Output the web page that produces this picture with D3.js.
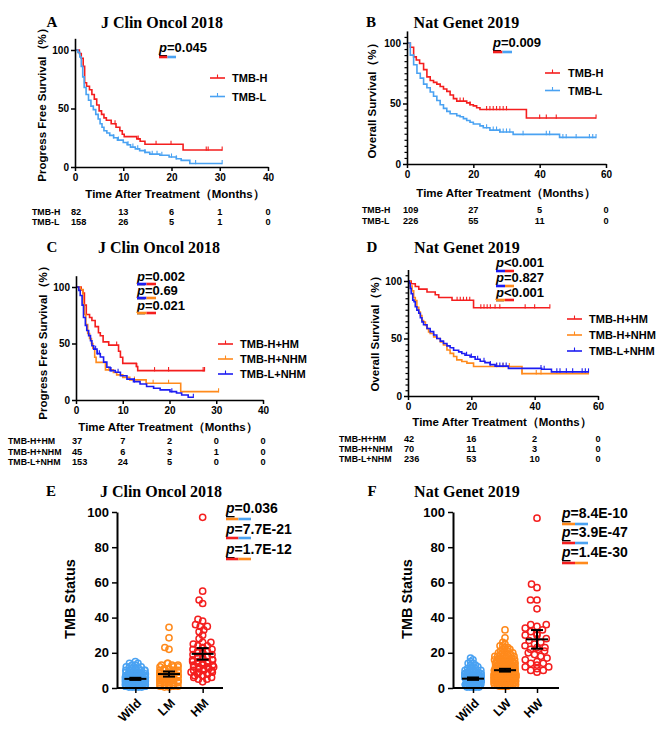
<!DOCTYPE html>
<html><head><meta charset="utf-8">
<script src="https://cdn.jsdelivr.net/npm/d3@7"></script>
<style>body{margin:0;background:#fff}svg{display:block}</style>
</head><body>
<svg id="c" width="669" height="736"></svg>
<script>
// ---------------- DATA ----------------
const TITLE_JCO = "J Clin Oncol 2018";
const TITLE_NG = "Nat Genet 2019";
const XLAB = "Time After Treatment（Months）";
const YLAB_PFS = "Progress Free Survival（%）";
const YLAB_OS = "Overall Survival（%）";
const YLAB_TMB = "TMB Status";

const xTicks40 = [0, 10, 20, 30, 40];
const xTicks60 = [0, 20, 40, 60];
const yTicksKM = [0, 50, 100];
const yTicksTMB = [0, 20, 40, 60, 80, 100];

// Panel A (PFS, J Clin Oncol 2018)  [time, survival%] steps
const groupsAB = ["TMB-H", "TMB-L"];
const A_H_surv = [[0,100],[0.9,97],[1.3,93],[1.7,86],[2.0,72],[2.4,69],[3,66],[3.5,62],[4,58],[4.5,53],[5,48],[5.5,45],[6,42],[6.5,40],[7.5,37],[8.5,34],[9.3,31],[9.8,28],[10.2,26],[12.8,24],[13.5,22],[14.5,19.5],[22.4,14.5]];
const A_H_cens = [8.3, 13.1, 16.8, 19.9, 27.2, 27.6, 30.5];
const A_L_surv = [[0,100],[0.6,98],[1.0,94],[1.3,86],[1.6,77],[1.9,68],[2.3,62],[2.8,57],[3.3,52],[3.8,49],[4.3,45],[4.8,41],[5.2,37],[5.6,34],[6,31],[6.6,29],[7.2,27],[8,25],[8.8,23],[10,21],[10.8,19],[11.5,17],[12.5,15.5],[13.4,14],[14.5,12.5],[15.5,11],[17.6,10],[19.5,8.6],[21,7],[22,5.7],[23.8,3]];
const A_L_cens = [8, 9, 11, 12, 13, 14.5, 16, 17, 18, 20, 21, 25, 30.5];
const A_end = [30.5, 30.5];
const A_risk = [[82,13,6,1,0],[158,26,5,1,0]];

// Panel B (OS, Nat Genet 2019)
const B_H_surv = [[0,100],[1,96.5],[2,88.5],[2.8,86],[3.8,83],[5,78],[6,72],[7,69],[8,67.5],[9,66],[10,64],[11,62],[12,60],[13,57],[14,54],[15,52],[18,50.5],[19,49],[20,48],[21,46.5],[22,45],[36,38]];
const B_H_cens = [16, 17, 19, 24, 25, 26, 27, 28, 29, 30, 40, 42, 45, 57];
const B_L_surv = [[0,100],[1,90],[2,82],[3,75],[4,71],[5,66],[6,63],[7,59.5],[8,56],[9,52.5],[10,49],[11,46],[12,43.5],[13,41.5],[15,40],[16,39],[17,37.5],[18,36],[19,34.5],[20,33],[22,31.5],[23,30],[25,28],[28,26.5],[32,24.5],[46,22]];
const B_L_cens = [24, 26, 27, 28, 29, 30, 31, 35, 42, 43, 47, 48, 51, 55, 56, 57];
const B_end = [57, 57];
const B_risk = [[109,27,5,0],[226,55,11,0]];

// Panel C (PFS, J Clin Oncol 2018, 3 groups)
const groupsCD = ["TMB-H+HM", "TMB-H+NHM", "TMB-L+NHM"];
const C_HM_surv = [[0,100],[1.1,97.3],[1.5,94.6],[1.8,84],[2.2,75.7],[2.9,73],[3.4,70.3],[4.1,64.9],[4.8,59.5],[5.2,56.8],[5.8,51.4],[7,48.6],[9.1,43.2],[9.5,37.8],[10,32.4],[12.9,29.7],[13.2,26]];
const C_HM_cens = [8.7, 13, 16.8, 19.8, 27.2, 27.5];
const C_HN_surv = [[0,100],[0.9,97.8],[1.5,84.4],[1.8,75.6],[2.1,66.7],[2.5,58.9],[2.9,54.4],[3.3,50],[3.6,45.6],[4,37.8],[4.3,33.3],[6.3,26.7],[8,24.4],[8.7,22.2],[10,20],[11.5,17.8],[15,14.8],[22.4,7.4]];
const C_HN_cens = [7, 12.5, 16.5, 19.8, 30.5];
const C_LN_surv = [[0,100],[0.6,97],[0.9,92.5],[1.3,84],[1.6,73],[2,66],[2.3,61.5],[2.7,57],[3.1,52.5],[3.4,48],[3.8,45],[4.5,41],[5.2,38],[5.9,33.5],[6.6,29],[7.3,26],[8.4,24.5],[9.5,21.5],[10.9,18.5],[12.3,16.3],[13.7,14.2],[15.1,12],[16.6,10.4],[18,9],[20.1,7.4],[21.5,6.2],[22.6,4.4],[24,2.4]];
const C_LN_cens = [4.2, 4.6, 5, 7.5, 9, 12.5, 20.5, 25.1];
const C_end = [27.5, 30.5, 25.1];
const C_risk = [[37,7,2,0,0],[45,6,3,1,0],[153,24,5,0,0]];

// Panel D (OS, Nat Genet 2019, 3 groups)
const D_HM_surv = [[0,100],[1,97.6],[2.3,95.2],[3.4,92.9],[6,90.5],[8.6,88.1],[9.7,85.7],[13.9,83.3],[20.7,76.8]];
const D_HM_cens = [15.5, 16.5, 17.5, 18.5, 19.5, 23, 24, 25, 26, 27.5, 29, 37, 40, 44.8];
const D_HN_surv = [[0,100],[0.7,95.7],[1.3,91.4],[1.8,85.7],[2.3,82.9],[2.8,77.1],[3.4,72.9],[3.9,70],[4.4,65.7],[4.9,64.3],[5.5,61.4],[6,58.6],[6.5,55.7],[7,54.3],[8.1,51.4],[9.1,50],[10.2,47.1],[11.2,44.3],[12.3,40],[13.3,37.1],[14.4,34.3],[15.4,31.4],[17,30],[18.6,28.6],[20.7,25.7],[36,19.5]];
const D_HN_cens = [28, 30, 32, 36, 40.5, 42, 57];
const D_LN_surv = [[0,100],[0.4,98],[0.7,93.6],[1,89],[1.5,83.4],[1.9,82],[2.3,77.6],[2.8,74.7],[3.4,72],[3.9,68],[4.4,64.5],[4.9,62],[6,58.7],[7,56],[8.1,53],[9.1,50],[10.2,47.7],[11.2,45.6],[12.3,43.6],[13.3,41.9],[14.4,39.8],[16,38.4],[17,37],[18,35.5],[19.6,34],[21.2,32],[22.8,30.2],[24.3,29],[25.9,27.3],[27.5,26],[31.7,24],[42.2,23.3],[45.3,21]];
const D_LN_cens = [18.5, 20, 22, 24, 26, 28, 29, 30, 31, 42, 43, 47, 48, 50, 52, 55, 56, 57];
const D_end = [44.8, 57, 57];
const D_risk = [[42,16,2,0],[70,11,3,0],[236,53,10,0]];

// p values
const A_p = ["=0.045"];
const B_p = ["=0.009"];
const C_p = ["=0.002", "=0.69", "=0.021"];
const D_p = ["<0.001", "=0.827", "<0.001"];
const E_p = ["=0.036", "=7.7E-21", "=1.7E-12"];
const F_p = ["=8.4E-10", "=3.9E-47", "=1.4E-30"];

// Panels E/F: TMB values as [value, number of patients]
const E_cats = ["Wild", "LM", "HM"];
const E_wild = [[0.5,5],[1,12],[2,15],[3,17],[4,15],[5,13],[6,11],[7,9],[8,7],[9,6],[10,5],[11,4],[12,3],[13,2],[14,2],[15,1]];
const E_lm = [[0.5,2],[1,3],[2,4],[3,5],[4,6],[5,6],[6,6],[7,6],[8,5],[9,5],[10,4],[11,4],[12,3],[13,3],[14,2],[22,1],[23,1],[28.5,1],[34.5,1]];
const E_hm = [[3.5,1],[5,2],[6,2],[7,3],[8,3],[9,3],[10,4],[11,4],[12,4],[13,3],[14,4],[15,3],[16,3],[17,3],[18,2],[19,2],[20,3],[21,2],[22,2],[23,2],[24,2],[25,1],[26,2],[28,1],[30,1],[32,1],[33,1],[35,2],[36,1],[38,1],[39,1],[48,1],[50,1],[55,1],[97,1]];
const F_cats = ["Wild", "LW", "HW"];
const F_wild = [[0.5,5],[1,10],[2,14],[3,15],[4,14],[5,12],[6,10],[7,8],[8,6],[9,5],[10,4],[11,3],[12,2],[13,2],[14,2],[15,1],[16,1],[17,1]];
const F_lw = [[1,4],[2,6],[3,10],[4,12],[5,15],[6,16],[7,16],[8,16],[9,15],[10,14],[11,12],[12,11],[13,10],[14,8],[15,7],[16,6],[17,5],[18,4],[19,4],[20,3],[21,3],[22,2],[23,2],[24,2],[25,1],[26,1],[28.5,1],[33,1]];
const F_hw = [[9,1],[10,2],[11,1],[12,2],[13,1],[14,2],[15,1],[16,1],[17,1],[18,1],[19,1],[20,1],[21,1],[22,2],[23,2],[24,1],[25,1],[26,1],[27,1],[28,1],[30,2],[31,1],[32,1],[33,1],[34,1],[35,1],[36,2],[45,1],[50,2],[57,1],[59,1],[96.5,1]];

// ---------------- DRAWING ----------------
const RED = "#f41e1e", LBLUE = "#4aa2f2", ORANGE = "#ff8a1c", DBLUE = "#1c1cf2";
const SANS = "'Liberation Sans', Arial, sans-serif";
const SERIF = "'Liberation Serif', 'Times New Roman', serif";
const svg = d3.select("#c");

function txt(x, y, s, o = {}) {
  const t = svg.append("text").attr("x", x).attr("y", y).text(s)
    .attr("font-family", o.ff || SANS).attr("font-size", o.fs || 10)
    .attr("font-weight", o.fw || "bold").attr("text-anchor", o.anchor || "start")
    .attr("dominant-baseline", "central").attr("fill", o.fill || "#000");
  if (o.rot) t.attr("transform", `rotate(${o.rot},${x},${y})`);
  return t;
}

function styleAxis(g, fs) {
  g.selectAll(".domain").attr("stroke", "#000").attr("stroke-width", 1.6);
  g.selectAll(".tick line").attr("stroke", "#000").attr("stroke-width", 1.5);
  g.selectAll(".tick text").attr("font-family", SANS).attr("font-size", fs)
    .attr("font-weight", "bold").attr("fill", "#000");
}

function pvals(P) {
  P.texts.forEach((s, i) => {
    const t = svg.append("text").attr("x", P.x).attr("y", P.ys[i])
      .attr("font-family", SANS).attr("font-size", P.fs).attr("font-weight", "bold")
      .attr("dominant-baseline", "central");
    t.append("tspan").attr("font-style", "italic").attr("text-decoration", "underline").text("p");
    t.append("tspan").text(s);
    const c = P.cols[i];
    svg.append("line").attr("x1", P.x).attr("x2", P.x + P.bw / 2).attr("y1", P.bars[i]).attr("y2", P.bars[i])
      .attr("stroke", c[0]).attr("stroke-width", 2.6);
    svg.append("line").attr("x1", P.x + P.bw / 2).attr("x2", P.x + P.bw).attr("y1", P.bars[i]).attr("y2", P.bars[i])
      .attr("stroke", c[1]).attr("stroke-width", 2.6);
  });
}

function survAt(steps, t) {
  let s = steps[0][1];
  for (const d of steps) if (d[0] <= t) s = d[1];
  return s;
}

function km(P) {
  const x = d3.scaleLinear().domain([0, P.xmax]).range([P.x0, P.x1]);
  const y = d3.scaleLinear().domain([0, 110]).range([P.y0, P.y0 - 1.1 * (P.y0 - P.y100)]);
  const line = d3.line().x(d => x(d[0])).y(d => y(d[1])).curve(d3.curveStepAfter);
  P.series.forEach(S => {
    const pts = S.s.concat([[S.end, S.s[S.s.length - 1][1]]]);
    svg.append("path").attr("d", line(pts)).attr("fill", "none").attr("stroke", S.col).attr("stroke-width", 1.6);
    S.c.forEach(t => {
      const yy = y(survAt(S.s, t));
      svg.append("line").attr("x1", x(t)).attr("x2", x(t)).attr("y1", yy - 3.5).attr("y2", yy + 0.8)
        .attr("stroke", S.col).attr("stroke-width", 1.1);
    });
  });
  const gx = svg.append("g").attr("transform", `translate(0,${P.y0})`)
    .call(d3.axisBottom(x).tickValues(P.xt).tickSize(4).tickSizeOuter(0).tickPadding(3));
  styleAxis(gx, 10);
  const gy = svg.append("g").attr("transform", `translate(${P.x0},0)`)
    .call(d3.axisLeft(y).tickValues(yTicksKM).tickSize(4).tickSizeOuter(0).tickPadding(2));
  styleAxis(gy, 10);
  if (P.minor) {
    const gm = svg.append("g").attr("transform", `translate(${P.x0},0)`)
      .call(d3.axisLeft(y).tickValues(d3.range(5, 110, 5).filter(v => v % 50 !== 0)).tickSize(2.5).tickFormat(""));
    gm.select(".domain").remove();
    gm.selectAll(".tick line").attr("stroke", "#000").attr("stroke-width", 1.2);
  }
  txt(P.letter[1], P.letter[2], P.letter[0], { ff: SERIF, fs: 15, anchor: "middle" });
  txt(P.title[1], P.title[2], P.title[0], { ff: SERIF, fs: 16, anchor: "middle" });
  txt(P.ylab[1], P.ylab[2], P.ylab[0], { fs: 11.5, anchor: "middle", rot: -90 });
  txt(P.xlab[1], P.xlab[2], P.xlab[0], { fs: 11.5, anchor: "middle" });
  P.series.forEach((S, i) => {
    const ly = P.leg.y + i * P.leg.dy;
    svg.append("line").attr("x1", P.leg.x).attr("x2", P.leg.x + 15).attr("y1", ly).attr("y2", ly)
      .attr("stroke", S.col).attr("stroke-width", 1.6);
    svg.append("line").attr("x1", P.leg.x + 7.5).attr("x2", P.leg.x + 7.5).attr("y1", ly - 3.5).attr("y2", ly)
      .attr("stroke", S.col).attr("stroke-width", 1.1);
    txt(P.leg.tx, ly, P.leg.labels[i], { fs: 11 });
  });
  P.risk.rows.forEach((row, i) => {
    const ry = P.risk.y + i * P.risk.dy;
    txt(P.risk.lx, ry, P.leg.labels[i], { fs: 8.8 });
    row.forEach((v, j) => {
      if (j === 0) txt(x(P.xt[j]) - 4, ry, String(v), { fs: 9.2 });
      else txt(x(P.xt[j]), ry, String(v), { fs: 9.2, anchor: "middle" });
    });
  });
  pvals(P.p);
}

function dodge(ys, D, W) {
  const placed = [], out = [];
  for (const yy of ys) {
    const forb = [];
    for (const p of placed) {
      const dy = Math.abs(p[1] - yy);
      if (dy < D) { const dx = Math.sqrt(D * D - dy * dy); forb.push([p[0] - dx, p[0] + dx]); }
    }
    const free = c => forb.every(f => c <= f[0] + 1e-6 || c >= f[1] - 1e-6);
    const cands = [0];
    forb.forEach(f => cands.push(f[0], f[1]));
    cands.sort((a, b) => Math.abs(a) - Math.abs(b) || a - b);
    let best = null;
    for (const c of cands) { if (Math.abs(c) <= W && free(c)) { best = c; break; } }
    if (best === null) {
      let bc = Infinity;
      for (let c = -W; c <= W + 1e-9; c += 0.5) {
        const cnt = forb.filter(f => c > f[0] && c < f[1]).length;
        if (cnt < bc || (cnt === bc && Math.abs(c) < Math.abs(best))) { bc = cnt; best = c; }
      }
    }
    placed.push([best, yy]); out.push(best);
  }
  return out;
}

function scatter(P) {
  const x = d3.scalePoint().domain(P.cats).range([P.x0, P.x1]).padding(P.pad);
  const y = d3.scaleLinear().domain([0, 100]).range([688, 512]);
  P.groups.forEach((grp, i) => {
    const vals = grp.data.flatMap(([v, c]) => Array(c).fill(v)).sort((a, b) => a - b);
    const ys = vals.map(v => y(v));
    const offs = dodge(ys, grp.d, grp.w);
    const cx = x(P.cats[i]);
    svg.append("g").selectAll("circle").data(vals).join("circle")
      .attr("cx", (d, k) => cx + offs[k]).attr("cy", (d, k) => ys[k]).attr("r", 3.1)
      .attr("fill", "none").attr("stroke", grp.col).attr("stroke-width", 1.5);
    const m = d3.mean(vals), ci = 1.96 * d3.deviation(vals) / Math.sqrt(vals.length);
    const g = svg.append("g").attr("stroke", "#000").attr("stroke-width", 2);
    g.append("line").attr("x1", cx - 11).attr("x2", cx + 11).attr("y1", y(m)).attr("y2", y(m));
    g.append("line").attr("x1", cx).attr("x2", cx).attr("y1", y(m - ci)).attr("y2", y(m + ci));
    g.append("line").attr("x1", cx - 6).attr("x2", cx + 6).attr("y1", y(m - ci)).attr("y2", y(m - ci));
    g.append("line").attr("x1", cx - 6).attr("x2", cx + 6).attr("y1", y(m + ci)).attr("y2", y(m + ci));
  });
  const gy = svg.append("g").attr("transform", `translate(${P.x0},0)`)
    .call(d3.axisLeft(y).tickValues(yTicksTMB).tickSize(5).tickSizeOuter(0).tickPadding(3));
  styleAxis(gy, 13);
  gy.selectAll(".domain").attr("stroke-width", 2);
  const gx = svg.append("g").attr("transform", `translate(0,688)`)
    .call(d3.axisBottom(x).tickSize(5).tickSizeOuter(0).tickFormat(""));
  styleAxis(gx, 12);
  gx.select(".domain").attr("d", `M${P.x0},0H${P.x1 + 2}`).attr("stroke-width", 2);
  P.cats.forEach(c => {
    const tx = x(c) + 4, ty = 701;
    svg.append("text").attr("x", 0).attr("y", 0).text(c)
      .attr("transform", `translate(${tx},${ty}) rotate(-45)`)
      .attr("text-anchor", "end").attr("dominant-baseline", "central")
      .attr("font-family", SANS).attr("font-size", 12.5).attr("font-weight", "bold");
  });
  txt(P.letter[1], P.letter[2], P.letter[0], { ff: SERIF, fs: 15, anchor: "middle" });
  txt(P.title[1], P.title[2], P.title[0], { ff: SERIF, fs: 16, anchor: "middle" });
  txt(P.ylab[1], P.ylab[2], P.ylab[0], { fs: 14.5, anchor: "middle", rot: -90 });
  pvals(P.p);
}

km({ x0: 75, x1: 268, xmax: 40, xt: xTicks40, y0: 167, y100: 50, minor: false,
  series: [{ s: A_H_surv, c: A_H_cens, end: A_end[0], col: RED }, { s: A_L_surv, c: A_L_cens, end: A_end[1], col: LBLUE }],
  letter: ["A", 52, 22], title: [TITLE_JCO, 162, 22], ylab: [YLAB_PFS, 42, 102], xlab: [XLAB, 175, 194],
  leg: { x: 210, y: 78, dy: 18.5, tx: 232, labels: groupsAB },
  risk: { lx: 32, y: 212, dy: 10, rows: A_risk },
  p: { x: 159, ys: [47], bars: [57], bw: 17, fs: 13, texts: A_p, cols: [[RED, LBLUE]] } });

km({ x0: 407, x1: 606, xmax: 60, xt: xTicks60, y0: 164, y100: 43, minor: true,
  series: [{ s: B_H_surv, c: B_H_cens, end: B_end[0], col: RED }, { s: B_L_surv, c: B_L_cens, end: B_end[1], col: LBLUE }],
  letter: ["B", 371, 22], title: [TITLE_NG, 466.5, 22], ylab: [YLAB_OS, 372, 98], xlab: [XLAB, 506, 193],
  leg: { x: 545, y: 73, dy: 17.5, tx: 568, labels: groupsAB },
  risk: { lx: 362, y: 210, dy: 10.5, rows: B_risk },
  p: { x: 493, ys: [42], bars: [52], bw: 19, fs: 13, texts: B_p, cols: [[RED, LBLUE]] } });

km({ x0: 76, x1: 263, xmax: 40, xt: xTicks40, y0: 400, y100: 287, minor: false,
  series: [{ s: C_HM_surv, c: C_HM_cens, end: C_end[0], col: RED }, { s: C_HN_surv, c: C_HN_cens, end: C_end[1], col: ORANGE }, { s: C_LN_surv, c: C_LN_cens, end: C_end[2], col: DBLUE }],
  letter: ["C", 52, 247], title: [TITLE_JCO, 159, 247], ylab: [YLAB_PFS, 43, 340], xlab: [XLAB, 168, 427],
  leg: { x: 218, y: 344, dy: 15, tx: 240, labels: groupsCD },
  risk: { lx: 8, y: 441, dy: 10.5, rows: C_risk },
  p: { x: 137, ys: [276, 290, 305], bars: [284, 298, 313], bw: 19, fs: 13, texts: C_p, cols: [[DBLUE, RED], [DBLUE, ORANGE], [ORANGE, RED]] } });

km({ x0: 408, x1: 598, xmax: 60, xt: xTicks60, y0: 396, y100: 281, minor: true,
  series: [{ s: D_HM_surv, c: D_HM_cens, end: D_end[0], col: RED }, { s: D_HN_surv, c: D_HN_cens, end: D_end[1], col: ORANGE }, { s: D_LN_surv, c: D_LN_cens, end: D_end[2], col: DBLUE }],
  letter: ["D", 372, 247], title: [TITLE_NG, 467, 247], ylab: [YLAB_OS, 375, 331], xlab: [XLAB, 502, 422],
  leg: { x: 567, y: 319, dy: 16, tx: 589, labels: groupsCD },
  risk: { lx: 339, y: 439, dy: 10, rows: D_risk },
  p: { x: 496, ys: [262, 277, 292], bars: [271, 286, 300], bw: 18, fs: 13, texts: D_p, cols: [[DBLUE, RED], [DBLUE, ORANGE], [ORANGE, RED]] } });

scatter({ cats: E_cats, x0: 117, x1: 221, pad: 0.545,
  groups: [{ data: E_wild, col: LBLUE, w: 10, d: 3.2 }, { data: E_lm, col: ORANGE, w: 9, d: 4.5 }, { data: E_hm, col: RED, w: 12, d: 5 }],
  letter: ["E", 51, 491], title: [TITLE_JCO, 161, 491], ylab: [YLAB_TMB, 70, 599],
  p: { x: 226, ys: [508, 529, 549], bars: [519, 538, 559], bw: 25, fs: 14, texts: E_p, cols: [[ORANGE, LBLUE], [RED, LBLUE], [RED, ORANGE]] } });

scatter({ cats: F_cats, x0: 453, x1: 557, pad: 0.625,
  groups: [{ data: F_wild, col: LBLUE, w: 8, d: 3 }, { data: F_lw, col: ORANGE, w: 11, d: 2.8 }, { data: F_hw, col: RED, w: 12, d: 6.5 }],
  letter: ["F", 372, 491], title: [TITLE_NG, 467, 491], ylab: [YLAB_TMB, 407, 599],
  p: { x: 562, ys: [513, 532, 552], bars: [524, 543, 563], bw: 26, fs: 14, texts: F_p, cols: [[ORANGE, LBLUE], [RED, LBLUE], [RED, ORANGE]] } });
</script>
</body></html>
